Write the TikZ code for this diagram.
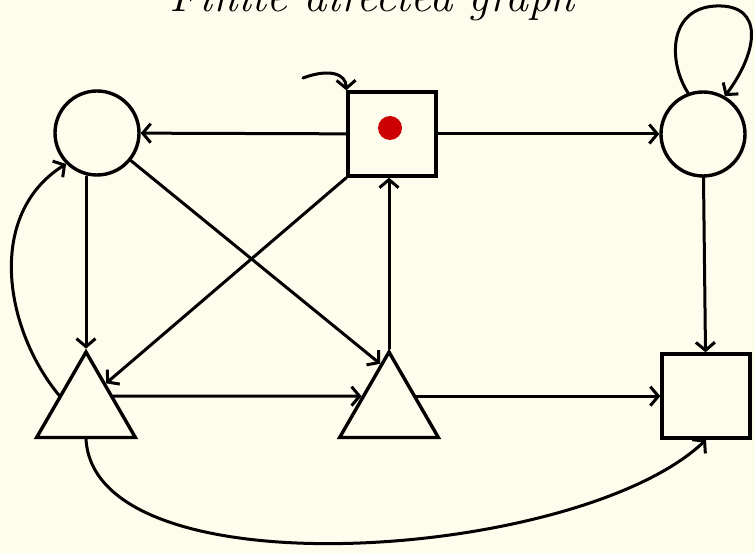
\documentclass[tikz,border=0pt]{standalone}
\usetikzlibrary{arrows.meta,shapes.geometric}
\definecolor{paper}{RGB}{254,252,237}
\definecolor{token}{RGB}{204,0,0}

\begin{document}
\begin{tikzpicture}[x=1pt, y=-1pt, line width=3pt, line cap=round,
    >={Straight Barb[length=8pt, width=19pt]},
    circ/.style={circle, draw, line width=3.4pt, minimum size=84pt, inner sep=0pt},
    box/.style={rectangle, draw, line width=3.4pt, minimum width=88pt, minimum height=84pt, inner sep=0pt},
    tri/.style={regular polygon, regular polygon sides=3, draw, line width=3.4pt, minimum size=114pt, inner sep=0pt}]
    \fill[paper] (0,0) rectangle (755,553);
    \useasboundingbox (0,0) rectangle (755,553);

    % title, mostly above the page
    \node[anchor=base, font=\fontsize{46}{50}\selectfont\itshape] (title) at (372,12) {Finite directed graph};

    % vertices
    \node[circ] (c1) at (97,133) {};
    \node[box]  (s0) at (392,134) {};
    \node[circ] (c2) at (703,134) {};
    \node[tri]  (t1) at (86,409) {};
    \node[tri]  (t2) at (389,409) {};
    \node[box]  (s1) at (706,396) {};

    % token on the start vertex
    \node[circle, fill=token, minimum size=24pt, inner sep=0pt] (tok) at (390,128) {};

    % start arrow
    \coordinate (init) at (303,78);
    \draw[->] (init) .. controls (330,68) and (346,74) .. (s0.north west);

    % edges
    \draw[->] (s0) -- (c1);
    \draw[->] (s0) -- (c2);
    \draw[->] (c2) -- (s1);
    \draw[->] (c1.south -| t1.north) -- (t1.north);
    \draw[->] (c1) -- (t2.101);
    \draw[->] (s0.south west) -- (t1.52);
    \draw[->] (t2.north) -- (t2.north |- s0.south);
    \draw[->] (t1.25) -- (t2.155);
    \draw[->] (t2.25) -- (t2.25 -| s1.west);

    % curved edges and the loop
    \draw[->] (t1.153) .. controls (5,330) and (-15,215) .. (c1.225);
    \draw[->] (t1.south) .. controls (95,595) and (580,560) .. (s1.south);
    \draw[->] (c2.110) .. controls (668,62) and (668,8) .. (716,6)
        .. controls (765,4) and (758,52) .. (c2.60);
\end{tikzpicture}
\end{document}
